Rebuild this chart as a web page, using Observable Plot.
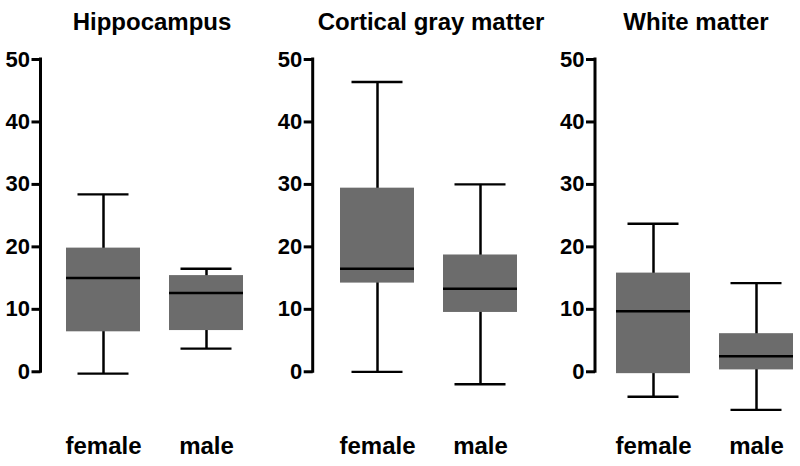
<!DOCTYPE html>
<html>
<head>
<meta charset="utf-8">
<script src="https://cdn.jsdelivr.net/npm/d3@7"></script>
<script src="https://cdn.jsdelivr.net/npm/@observablehq/plot@0.6"></script>
<style>
  body { margin: 0; background: #fff; font-family: "Liberation Sans", Arial, sans-serif; }
  #root { position: relative; width: 800px; height: 466px; overflow: hidden; background: #fff; }
  .title { position: absolute; top: 0; height: 34px; padding-top: 10px; line-height: 24px;
           font-size: 24px; font-weight: bold; text-align: center; color: #000; white-space: nowrap; }
  .panel { position: absolute; top: 44px; }
</style>
</head>
<body>
<div id="root"></div>
<script>
// ---- data ----
const panels = ["Hippocampus", "Cortical gray matter", "White matter"];
const groups = ["female", "male"];
const whiskerLow  = [[-0.3, 3.7], [0.0, -2.0], [-4.0, -6.1]];
const quart1      = [[6.4, 6.6], [14.2, 9.5], [-0.3, 0.3]];
const medians     = [[15.0, 12.6], [16.5, 13.3], [9.7, 2.5]];
const quart3      = [[19.8, 15.4], [29.4, 18.7], [15.8, 6.1]];
const whiskerHigh = [[28.4, 16.5], [46.4, 30.0], [23.7, 14.2]];
const yTicks = [0, 10, 20, 30, 40, 50];

// ---- layout (page pixels) ----
const layout = [
  {left: 0,   width: 265, marginLeft: 40.5, range: [65.7, 242.7], titleCenter: 152},
  {left: 265, width: 265, marginLeft: 47.7, range: [74.3, 252],   titleCenter: 431},
  {left: 530, width: 270, marginLeft: 65,   range: [85, 263],     titleCenter: 696}
];

const root = document.getElementById("root");
const fontFamily = "'Liberation Sans', Arial, sans-serif";

panels.forEach((name, p) => {
  const L = layout[p];
  const rows = groups.map((g, i) => ({
    group: g,
    lo: whiskerLow[p][i], q1: quart1[p][i], med: medians[p][i],
    q3: quart3[p][i], hi: whiskerHigh[p][i]
  }));

  const title = document.createElement("div");
  title.className = "title";
  title.style.left = (L.titleCenter - 150) + "px";
  title.style.width = "300px";
  title.textContent = name;
  root.appendChild(title);

  const chart = Plot.plot({
    width: L.width,
    height: 422,
    marginLeft: L.marginLeft,
    marginRight: 0,
    marginTop: 15,
    marginBottom: 51,
    style: {fontFamily, background: "white", color: "black"},
    x: {type: "band", domain: groups, range: L.range, paddingInner: 0.285, paddingOuter: 0, label: null},
    y: {domain: [-7, 50], label: null},
    marks: [
      Plot.ruleX(rows, {x: "group", y1: "lo", y2: "hi", stroke: "black", strokeWidth: 2.5}),
      Plot.tickY(rows, {x: "group", y: "lo", stroke: "black", strokeWidth: 2.3, inset: 11.5}),
      Plot.tickY(rows, {x: "group", y: "hi", stroke: "black", strokeWidth: 2.3, inset: 11.5}),
      Plot.barY(rows, {x: "group", y1: "q1", y2: "q3", fill: "#6c6c6c"}),
      Plot.tickY(rows, {x: "group", y: "med", stroke: "black", strokeWidth: 2.5}),
      Plot.axisY(yTicks, {tickSize: 9, tickPadding: 2, strokeWidth: 3, fontSize: 22, fontWeight: "bold",
                          tickFormat: d => String(d), label: null, fill: "black", stroke: "black"}),
      Plot.axisX({tickSize: 0, tickPadding: 21, fontSize: 24, fontWeight: "bold", label: null, fill: "black"})
    ]
  });

  // y axis baseline from 0 to 50, using the plot's own y scale
  const ys = chart.scale("y");
  d3.select(chart).append("line")
    .attr("x1", L.marginLeft).attr("x2", L.marginLeft)
    .attr("y1", ys.apply(yTicks[0]) + 1.5).attr("y2", ys.apply(yTicks[yTicks.length - 1]) - 1.5)
    .attr("stroke", "black").attr("stroke-width", 3);

  chart.classList.add("panel");
  chart.style.left = L.left + "px";
  root.appendChild(chart);
});
</script>
</body>
</html>
